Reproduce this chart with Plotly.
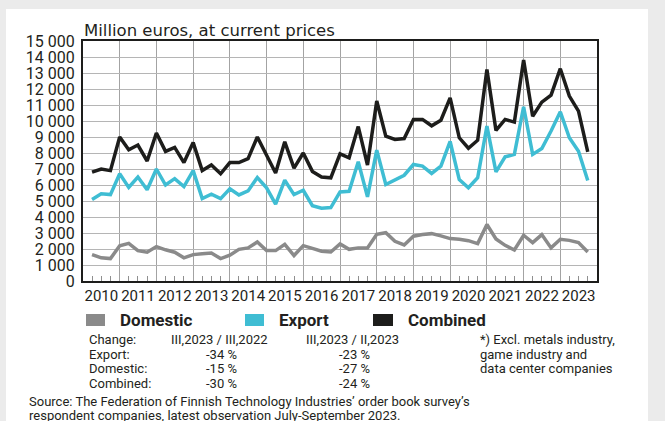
import pandas as pd
import plotly.graph_objects as go

# ---------------- data ----------------
quarters = list(pd.period_range("2010Q1", "2023Q3", freq="Q").astype(str))

combined = [6800, 7000, 6900, 9000,
            8200, 8500, 7500, 9250,
            8100, 8350, 7400, 8650,
            6900, 7250, 6700, 7400,
            7400, 7650, 9000, 7850,
            6750, 8700, 7050, 8000,
            6850, 6500, 6450, 7950,
            7700, 9650, 7250, 11250,
            9050, 8850, 8900, 10100,
            10100, 9700, 10050, 11450,
            8950, 8300, 8800, 13220,
            9410, 10100, 9930, 13810,
            10300, 11180, 11620, 13270,
            11560, 10620, 8070]

export = [5100, 5450, 5400, 6700,
          5850, 6500, 5700, 7000,
          6000, 6400, 5900, 6900,
          5150, 5420, 5150, 5760,
          5380, 5630, 6470, 5820,
          4800, 6300, 5400, 5670,
          4710, 4550, 4590, 5570,
          5610, 7450, 5260, 8180,
          6030, 6340, 6610, 7280,
          7180, 6720, 7180, 8720,
          6340, 5830, 6450, 9680,
          6820, 7760, 7910, 10890,
          7910, 8280, 9370, 10580,
          8950, 8110, 6280]

domestic = [1650, 1450, 1400, 2200,
            2350, 1900, 1800, 2150,
            1950, 1800, 1450, 1650,
            1700, 1750, 1400, 1610,
            1980, 2070, 2440, 1900,
            1900, 2290, 1590, 2210,
            2040, 1860, 1810, 2320,
            1980, 2070, 2070, 2920,
            3020, 2480, 2250, 2800,
            2900, 2960, 2820, 2650,
            2610, 2520, 2340, 3530,
            2630, 2230, 1940, 2860,
            2400, 2900, 2070, 2610,
            2540, 2400, 1810]

series_names = ["Domestic", "Export", "Combined"]
series_colors = ["#8a8a8a", "#3fbdd3", "#1d1d1b"]

change_header = ["Change:", "III,2023 / III,2022", "III,2023 / II,2023"]
change_rows = ["Export:", "Domestic:", "Combined:"]
change_yoy = ["-34 %", "-15 %", "-30 %"]
change_qoq = ["-23 %", "-27 %", "-24 %"]
footnote = ["*) Excl. metals industry,", "game industry and", "data center companies"]
source = ["Source: The Federation of Finnish Technology Industries\u2019 order book survey\u2019s",
          "respondent companies, latest observation July-September 2023."]
y_title = "Million euros, at current prices"

# quarter points are drawn at the end of each quarter
x_dates = (pd.PeriodIndex(quarters, freq="Q") + 1).to_timestamp()

# ---------------- layout helpers ----------------
W, H = 665, 421
PL, PR, PT, PB = 83, 597, 41, 281   # plot area in pixels


def px(x):
    return (x - PL) / (PR - PL)


def py(y):
    return (PB - y) / (PB - PT)


TXT = "#231f20"
FONT = "Roboto, Liberation Sans, Arial, sans-serif"

fig = go.Figure()
for name, vals, col in zip(series_names, [domestic, export, combined], series_colors):
    fig.add_trace(go.Scatter(x=x_dates, y=vals, mode="lines", name=name,
                             line=dict(color=col, width=3.5), showlegend=False))

shapes = [
    dict(type="rect", xref="paper", yref="paper", x0=px(6), x1=px(648), y0=py(440), y1=py(9),
         fillcolor="white", line=dict(width=0), layer="below"),
]
annotations = [
    dict(text=y_title, x=px(82), y=py(31), xref="paper", yref="paper", xanchor="left",
         yanchor="middle", showarrow=False,
         font=dict(size=16.5, color=TXT, family="DejaVu Sans, Roboto, sans-serif")),
]

# legend (squares + bold labels)
leg_sq = [(86, 105), (245, 264), (373, 393)]
leg_tx = [118, 277, 406]
for (x0, x1), tx, name, col in zip(leg_sq, leg_tx, series_names, series_colors):
    shapes.append(dict(type="rect", xref="paper", yref="paper", x0=px(x0), x1=px(x1),
                       y0=py(326), y1=py(314), fillcolor=col, line=dict(width=0)))
    annotations.append(dict(text="<b>%s</b>" % name, x=px(tx), y=py(320), xref="paper", yref="paper",
                            xanchor="left", yanchor="middle", showarrow=False,
                            font=dict(size=17, color=TXT, family=FONT)))

# change table
row_y = [339.5, 354.3, 368.5, 383]
small = dict(size=13, color=TXT, family=FONT)
annotations.append(dict(text=change_header[0], x=px(87), y=py(row_y[0]), xref="paper", yref="paper",
                        xanchor="left", yanchor="middle", showarrow=False, font=small))
annotations.append(dict(text=change_header[1], x=px(219), y=py(row_y[0]), xref="paper", yref="paper",
                        xanchor="center", yanchor="middle", showarrow=False, font=small))
annotations.append(dict(text=change_header[2], x=px(352), y=py(row_y[0]), xref="paper", yref="paper",
                        xanchor="center", yanchor="middle", showarrow=False, font=small))
for k in range(3):
    yy = py(row_y[k + 1])
    annotations.append(dict(text=change_rows[k], x=px(87), y=yy, xref="paper", yref="paper",
                            xanchor="left", yanchor="middle", showarrow=False, font=small))
    annotations.append(dict(text=change_yoy[k], x=px(221), y=yy, xref="paper", yref="paper",
                            xanchor="center", yanchor="middle", showarrow=False, font=small))
    annotations.append(dict(text=change_qoq[k], x=px(354), y=yy, xref="paper", yref="paper",
                            xanchor="center", yanchor="middle", showarrow=False, font=small))
for k, line in enumerate(footnote):
    annotations.append(dict(text=line, x=px(478), y=py(row_y[k]), xref="paper", yref="paper",
                            xanchor="left", yanchor="middle", showarrow=False, font=small))
for k, line in enumerate(source):
    annotations.append(dict(text=line, x=px(27), y=py(401.5 + 13.5 * k), xref="paper", yref="paper",
                            xanchor="left", yanchor="middle", showarrow=False,
                            font=dict(size=13, color=TXT, family=FONT)))

fig.update_layout(
    width=W, height=H,
    margin=dict(l=PL, r=W - PR, t=PT, b=H - PB, pad=0),
    paper_bgcolor="#ebebeb",
    plot_bgcolor="white",
    separators=", ",
    font=dict(family=FONT, color=TXT),
    shapes=shapes,
    annotations=annotations,
    xaxis=dict(
        type="date",
        range=["2010-01-01", "2024-01-01"],
        dtick="M12", tick0="2010-01-01",
        tickformat="%Y", ticklabelmode="period",
        ticks="", showgrid=True, gridcolor="#a3a3a3", gridwidth=1.3,
        minor=dict(dtick="M3", ticks="inside", ticklen=5, tickcolor="#8f8f8f",
                   tickwidth=1, showgrid=False),
        showline=True, linecolor="#1d1d1b", linewidth=2, mirror=True,
        tickfont=dict(size=15, color=TXT),
        ticklabelstandoff=0,
        zeroline=False, fixedrange=True,
    ),
    yaxis=dict(
        range=[0, 15000], dtick=1000, tick0=0,
        tickformat=",d",
        ticks="", showgrid=True, gridcolor="#b5b5b5", gridwidth=1,
        showline=True, linecolor="#1d1d1b", linewidth=2, mirror=True,
        tickfont=dict(size=16, color=TXT),
        ticklabelstandoff=3,
        zeroline=False, fixedrange=True,
    ),
)

fig.write_html("out.html", config={"displayModeBar": False},
               post_script="document.body.style.margin='0';document.body.style.padding='0';")
